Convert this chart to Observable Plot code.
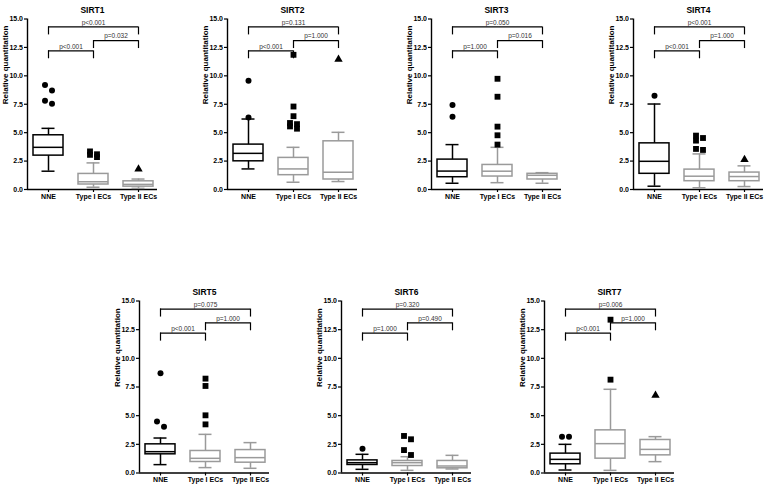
<!DOCTYPE html>
<html><head><meta charset="utf-8">
<script src="https://cdn.jsdelivr.net/npm/d3@7"></script>
<script src="https://cdn.jsdelivr.net/npm/@observablehq/plot@0.6"></script>
<style>
body{margin:0;background:#fff;}
#fig{position:relative;width:765px;height:484px;overflow:hidden;background:#fff;}
#fig svg{position:absolute;overflow:visible;}
</style></head><body><div id="fig"></div>
<script>
const groups = ["NNE", "Type I ECs", "Type II ECs"];
const genes = ["SIRT1", "SIRT2", "SIRT3", "SIRT4", "SIRT5", "SIRT6", "SIRT7"];
const yTicks = [0, 2.5, 5, 7.5, 10, 12.5, 15];

// [whisker min, Q1, median, Q3, whisker max] per group (NNE, Type I, Type II)
const boxSIRT1 = [[1.61, 2.98, 3.71, 4.77, 5.38], [0.2, 0.44, 0.68, 1.37, 2.34], [0.1, 0.25, 0.45, 0.72, 0.92]];
const boxSIRT2 = [[1.81, 2.48, 3.18, 3.95, 6.2], [0.64, 1.26, 1.81, 2.78, 3.71], [0.7, 0.88, 1.52, 4.24, 5.03]];
const boxSIRT3 = [[0.55, 1.08, 1.62, 2.63, 3.95], [0.6, 1.14, 1.61, 2.16, 3.71], [0.55, 0.88, 1.25, 1.38, 1.48]];
const boxSIRT4 = [[0.29, 1.38, 2.48, 4.06, 7.52], [0.15, 0.73, 1.17, 1.75, 3.13], [0.26, 0.73, 1.14, 1.49, 2.08]];
const boxSIRT5 = [[0.73, 1.63, 1.86, 2.5, 3.05], [0.47, 0.96, 1.28, 1.92, 3.37], [0.41, 0.9, 1.34, 2.0, 2.65]];
const boxSIRT6 = [[0.32, 0.7, 0.9, 1.1, 1.63], [0.23, 0.61, 0.9, 1.05, 1.42], [0.35, 0.41, 0.61, 1.05, 1.54]];
const boxSIRT7 = [[0.26, 0.76, 1.19, 1.69, 2.5], [0.23, 1.25, 2.56, 3.72, 7.3], [0.99, 1.54, 2.06, 2.88, 3.17]];

// outliers per group
const outSIRT1 = [[9.2, 8.7, 7.8, 7.55], [3.35, 3.1, 3.05, 2.85], [1.8]];
const outSIRT2 = [[9.56, 6.34], [11.85, 7.3, 6.45, 5.85, 5.75, 5.55, 5.35], [11.46]];
const outSIRT3 = [[7.43, 6.4], [9.74, 8.16, 5.53, 4.77, 3.95], []];
const outSIRT4 = [[8.25], [4.74, 4.53, 4.3, 3.57, 3.48], [2.63]];
const outSIRT5 = [[8.69, 4.5, 4.04], [8.23, 7.59, 5.03, 4.24], []];
const outSIRT6 = [[2.12], [3.23, 2.94, 2.0, 1.57], []];
const outSIRT7 = [[3.17, 3.17], [13.37, 8.14], [6.77]];

// p-values: [NNE vs Type II, NNE vs Type I, Type I vs Type II]
const pSIRT1 = ["p<0.001", "p<0.001", "p=0.032"];
const pSIRT2 = ["p=0.131", "p<0.001", "p=1.000"];
const pSIRT3 = ["p=0.050", "p=1.000", "p=0.016"];
const pSIRT4 = ["p<0.001", "p<0.001", "p=1.000"];
const pSIRT5 = ["p=0.075", "p<0.001", "p=1.000"];
const pSIRT6 = ["p=0.320", "p=1.000", "p=0.490"];
const pSIRT7 = ["p=0.006", "p<0.001", "p=1.000"];

const boxes = {SIRT1: boxSIRT1, SIRT2: boxSIRT2, SIRT3: boxSIRT3, SIRT4: boxSIRT4, SIRT5: boxSIRT5, SIRT6: boxSIRT6, SIRT7: boxSIRT7};
const outs = {SIRT1: outSIRT1, SIRT2: outSIRT2, SIRT3: outSIRT3, SIRT4: outSIRT4, SIRT5: outSIRT5, SIRT6: outSIRT6, SIRT7: outSIRT7};
const pvals = {SIRT1: pSIRT1, SIRT2: pSIRT2, SIRT3: pSIRT3, SIRT4: pSIRT4, SIRT5: pSIRT5, SIRT6: pSIRT6, SIRT7: pSIRT7};

// layout (pixels): center of "Type I ECs" column, top of the panel svg, inner height
const layout = {
  SIRT1: [93, 0, 170.5], SIRT2: [293, 0, 170.5], SIRT3: [497, 0, 170.5], SIRT4: [699, 0, 170.5],
  SIRT5: [205, 281.5, 172], SIRT6: [407, 281.5, 172], SIRT7: [610, 281.5, 172]
};

const STEP = 45, LEFT = 66, RIGHT = 64;
const fig = document.getElementById("fig");

function panel(gene) {
  const [cx, top, inner] = layout[gene];
  const rows = boxes[gene].map((b, i) => ({i, min: b[0], q1: b[1], med: b[2], q3: b[3], max: b[4], color: i === 0 ? "#000" : "#9a9a9a"}));
  const hw = 15 / STEP, cw = 6.5 / STEP, jit = 3.5 / STEP;
  const pts = [];
  outs[gene].forEach((vals, i) => {
    const s = [...vals].sort((a, b) => b - a);
    let cluster = [];
    const flush = () => {
      cluster.forEach((v, k) => pts.push({i, v, x: i + (cluster.length > 1 ? (k % 2 ? jit : -jit) : 0)}));
      cluster = [];
    };
    s.forEach(v => {
      if (cluster.length && cluster[cluster.length - 1] - v > 0.6) flush();
      cluster.push(v);
    });
    flush();
  });
  const p = pvals[gene];
  const br = [
    {a: 0, b: 2, h: 14.3, l: 13.6, p: p[0]},
    {a: 1, b: 2, h: 13.1, l: 12.4, p: p[2]},
    {a: 0, b: 1, h: 12.2, l: 11.5, p: p[1]}
  ];
  const legs = br.flatMap(d => [{x: d.a, h: d.h, l: d.l}, {x: d.b, h: d.h, l: d.l}]);
  const ML = 42, MR = 10, MT = 18.5, MB = 16;
  const W = ML + LEFT + RIGHT + MR, H = MT + inner + MB;
  const x0 = -(LEFT - STEP) / STEP, x1 = 2 + (RIGHT - STEP) / STEP;
  const svg = Plot.plot({
    width: W, height: H,
    marginLeft: ML, marginRight: MR, marginTop: MT, marginBottom: MB,
    x: {type: "linear", domain: [x0, x1]},
    y: {domain: [0, 15]},
    color: {type: "identity"},
    style: {fontFamily: "'Liberation Sans', Arial, sans-serif", fontSize: "7px", fontWeight: "bold", color: "#000", background: "transparent", overflow: "visible"},
    marks: [
      Plot.axisY({ticks: yTicks, tickFormat: d3.format(".1f"), tickSize: 3, tickPadding: 1.5, label: null, strokeWidth: 1.2}),
      Plot.axisX({ticks: [0, 1, 2], tickFormat: i => groups[i], tickSize: 3, tickPadding: 1.5, label: null, strokeWidth: 1.2}),
      Plot.ruleX([x0], {stroke: "#000", strokeWidth: 1.4}),
      Plot.ruleY([0], {stroke: "#000", strokeWidth: 1.4}),
      // whiskers
      Plot.ruleX(rows, {x: "i", y1: "q3", y2: "max", stroke: "color", strokeWidth: 1.5}),
      Plot.ruleX(rows, {x: "i", y1: "min", y2: "q1", stroke: "color", strokeWidth: 1.5}),
      Plot.ruleY(rows, {x1: d => d.i - cw, x2: d => d.i + cw, y: "max", stroke: "color", strokeWidth: 1.5}),
      Plot.ruleY(rows, {x1: d => d.i - cw, x2: d => d.i + cw, y: "min", stroke: "color", strokeWidth: 1.5}),
      // boxes
      Plot.rect(rows, {x1: d => d.i - hw, x2: d => d.i + hw, y1: "q1", y2: "q3", fill: "none", stroke: "color", strokeWidth: 1.5}),
      Plot.ruleY(rows, {x1: d => d.i - hw, x2: d => d.i + hw, y: "med", stroke: "color", strokeWidth: 1.5}),
      // outliers
      Plot.dot(pts.filter(d => d.i === 0), {x: "x", y: "v", symbol: "circle", r: 3, fill: "#000", stroke: "none"}),
      Plot.dot(pts.filter(d => d.i === 1), {x: "x", y: "v", symbol: "square", r: 3.3, fill: "#000", stroke: "none"}),
      Plot.dot(pts.filter(d => d.i === 2), {x: "x", y: "v", symbol: "triangle", r: 3.1, fill: "#000", stroke: "none"}),
      // significance brackets
      Plot.ruleY(br, {x1: "a", x2: "b", y: "h", stroke: "#000", strokeWidth: 1.2}),
      Plot.ruleX(legs, {x: "x", y1: "l", y2: "h", stroke: "#000", strokeWidth: 1.2}),
      Plot.text(br, {x: d => (d.a + d.b) / 2, y: "h", text: "p", lineAnchor: "middle", dy: -4.2, fontSize: 6.5, fontWeight: "normal", fill: "#333"}),
      // title and y label
      Plot.text([gene], {frameAnchor: "top", dy: -12, fontSize: 8.5, fontWeight: "bold"}),
      Plot.text(["Relative quantitation"], {frameAnchor: "left", rotate: -90, dx: -22, fontSize: 8, fontWeight: "bold"})
    ]
  });
  svg.style.left = (cx - LEFT - ML) + "px";
  svg.style.top = top + "px";
  fig.appendChild(svg);
}
genes.forEach(panel);
</script>
</body></html>
